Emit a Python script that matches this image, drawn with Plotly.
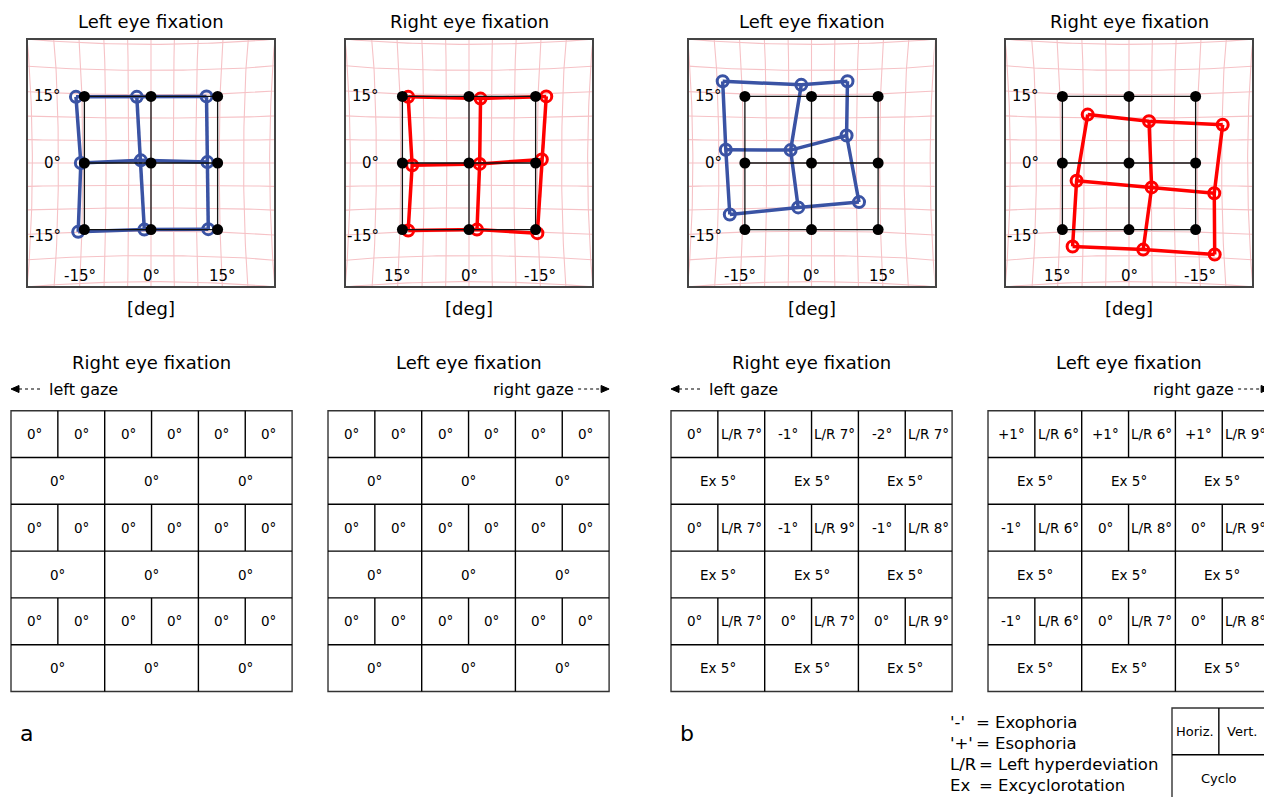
import numpy as np
import plotly.graph_objects as go

W, H = 1264, 797
FONT = "DejaVu Sans"
BLUE = "#3a53a4"
RED = "#ff0000"
PINK = "#f6c2c6"

# ---- Hess plots (degrees) ----
ref_deg = [-15, 0, 15]            # black target points
tick_deg = [-15, 0, 15]

# measured points, rows top -> bottom, columns left -> right on screen
a_left_x = [[-16.9, -3.2, 12.5], [-15.8, -2.3, 12.7], [-16.4, -1.5, 12.9]]
a_left_y = [[14.9, 14.9, 15.0], [0.0, 0.6, 0.2], [-15.5, -15.0, -14.9]]
a_right_x = [[13.7, -2.6, -17.4], [12.8, -2.4, -16.4], [13.7, -1.8, -15.4]]
a_right_y = [[14.9, 14.5, 15.0], [-0.5, -0.2, 0.8], [-15.2, -15.0, -15.8]]
b_left_x = [[-20.0, -2.3, 8.1], [-19.3, -4.7, 7.9], [-18.4, -3.0, 10.7]]
b_left_y = [[18.4, 17.6, 18.4], [3.0, 2.9, 6.2], [-11.6, -10.0, -8.8]]
b_right_x = [[9.3, -4.5, -21.1], [11.8, -5.1, -19.2], [12.7, -3.2, -19.3]]
b_right_y = [[10.9, 9.4, 8.6], [-4.0, -5.5, -6.8], [-18.8, -19.5, -20.6]]

# ---- deviation tables: rows = gaze rows, cols = screen order ----
a_re_horiz = [["0°", "0°", "0°"], ["0°", "0°", "0°"], ["0°", "0°", "0°"]]
a_re_vert = [["0°", "0°", "0°"], ["0°", "0°", "0°"], ["0°", "0°", "0°"]]
a_re_cyclo = [["0°", "0°", "0°"], ["0°", "0°", "0°"], ["0°", "0°", "0°"]]
a_le_horiz = [["0°", "0°", "0°"], ["0°", "0°", "0°"], ["0°", "0°", "0°"]]
a_le_vert = [["0°", "0°", "0°"], ["0°", "0°", "0°"], ["0°", "0°", "0°"]]
a_le_cyclo = [["0°", "0°", "0°"], ["0°", "0°", "0°"], ["0°", "0°", "0°"]]
b_re_horiz = [["0°", "-1°", "-2°"], ["0°", "-1°", "-1°"], ["0°", "0°", "0°"]]
b_re_vert = [["L/R 7°", "L/R 7°", "L/R 7°"], ["L/R 7°", "L/R 9°", "L/R 8°"], ["L/R 7°", "L/R 7°", "L/R 9°"]]
b_re_cyclo = [["Ex 5°", "Ex 5°", "Ex 5°"], ["Ex 5°", "Ex 5°", "Ex 5°"], ["Ex 5°", "Ex 5°", "Ex 5°"]]
b_le_horiz = [["+1°", "+1°", "+1°"], ["-1°", "0°", "0°"], ["-1°", "0°", "0°"]]
b_le_vert = [["L/R 6°", "L/R 6°", "L/R 9°"], ["L/R 6°", "L/R 8°", "L/R 9°"], ["L/R 6°", "L/R 7°", "L/R 8°"]]
b_le_cyclo = [["Ex 5°", "Ex 5°", "Ex 5°"], ["Ex 5°", "Ex 5°", "Ex 5°"], ["Ex 5°", "Ex 5°", "Ex 5°"]]

legend_keys = ["'-'", "'+'", "L/R", "Ex"]
legend_text = ["= Exophoria", "= Esophoria", "= Left hyperdeviation", "= Excyclorotation"]


def px(x):
    return x / W


def py(y):
    return 1 - y / H


def mesh(xs, ys):
    lx, ly = [], []
    for r in range(3):
        lx += list(xs[r]) + [None]
        ly += list(ys[r]) + [None]
    for c in range(3):
        lx += [xs[r][c] for r in range(3)] + [None]
        ly += [ys[r][c] for r in range(3)] + [None]
    return lx, ly


def pink_grid():
    # tangent-screen grid, slight pincushion
    K = 180 / np.pi
    angs = np.arange(-35, 36, 5)
    t = np.linspace(-40, 40, 81)
    gx, gy = [], []
    for a in angs:
        x = K * np.tan(np.radians(a))
        y = K * np.tan(np.radians(t))
        gx += list(x * (1 + 6e-5 * y ** 2)) + [None]
        gy += list(y * (1 + 6e-5 * x ** 2)) + [None]
        gx += list(y * (1 + 6e-5 * x ** 2)) + [None]
        gy += list(x * (1 + 6e-5 * y ** 2)) + [None]
    return gx, gy


fig = go.Figure()
shapes, annos = [], []

panels = [
    (28, "Left eye fixation", a_left_x, a_left_y, BLUE, False),
    (346, "Right eye fixation", a_right_x, a_right_y, RED, True),
    (688.5, "Left eye fixation", b_left_x, b_left_y, BLUE, False),
    (1006, "Right eye fixation", b_right_x, b_right_y, RED, True),
]
BOX = 246
TOP = 40
R = 27.7
gx, gy = pink_grid()
ref_x = [ref_deg[:] for _ in range(3)]
ref_y = [[v] * 3 for v in ref_deg[::-1]]
rlx, rly = mesh(ref_x, ref_y)


def text(x, y, s, size=13, anchor="center"):
    annos.append(dict(x=px(x), y=py(y), xref="paper", yref="paper", text=s, showarrow=False,
                      xanchor=anchor, yanchor="middle",
                      font=dict(size=size, color="black", family=FONT)))


for i, (x0, title, xs, ys, col, flip) in enumerate(panels):
    n = "" if i == 0 else str(i + 1)
    xa, ya = "x" + n, "y" + n
    sign = -1 if flip else 1
    fig.add_trace(go.Scatter(x=gx, y=gy, mode="lines", line=dict(color=PINK, width=1.1),
                             xaxis=xa, yaxis=ya, hoverinfo="skip", showlegend=False))
    lx, ly = mesh(xs, ys)
    fig.add_trace(go.Scatter(x=lx, y=ly, mode="lines", line=dict(color=col, width=3.5),
                             xaxis=xa, yaxis=ya, showlegend=False))
    fig.add_trace(go.Scatter(x=sum(xs, []), y=sum(ys, []), mode="markers",
                             marker=dict(symbol="circle-open", size=11, color=col, line=dict(width=3)),
                             xaxis=xa, yaxis=ya, showlegend=False))
    fig.add_trace(go.Scatter(x=rlx, y=rly, mode="lines", line=dict(color="#111", width=1.3),
                             xaxis=xa, yaxis=ya, showlegend=False))
    fig.add_trace(go.Scatter(x=sum(ref_x, []), y=sum(ref_y, []), mode="markers",
                             marker=dict(size=11, color="black"),
                             xaxis=xa, yaxis=ya, showlegend=False))
    rng = [R, -R] if flip else [-R, R]
    fig.update_layout(**{
        ("xaxis" + n): dict(domain=[px(x0), px(x0 + BOX)], range=rng, anchor=ya,
                            showgrid=False, zeroline=False, showticklabels=False, ticks="",
                            showline=True, mirror=True, linecolor="#444", linewidth=1.5),
        ("yaxis" + n): dict(domain=[py(TOP + BOX), py(TOP)], range=[-R, R], anchor=xa,
                            showgrid=False, zeroline=False, showticklabels=False, ticks="",
                            showline=True, mirror=True, linecolor="#444", linewidth=1.5),
    })
    for t in tick_deg:
        annos.append(dict(x=t * 1.07, y=-25.4, xref=xa, yref=ya, text=f"{t}°", showarrow=False,
                          xanchor="center", yanchor="middle",
                          font=dict(size=15, color="black", family=FONT)))
        yy = t if t >= 0 else t * 1.1
        annos.append(dict(x=-19.8 * sign, y=yy, xref=xa, yref=ya, text=f"{t}°", showarrow=False,
                          xanchor="right", yanchor="middle",
                          font=dict(size=15, color="black", family=FONT)))
    cx = x0 + BOX / 2
    text(cx, 21, title, size=18)
    text(cx, 309, "[deg]", size=18)


def line(x0, y0, x1, y1, color="black", width=1.4, dash=None):
    d = dict(type="line", xref="paper", yref="paper", x0=px(x0), y0=py(y0), x1=px(x1), y1=py(y1),
             line=dict(color=color, width=width))
    if dash:
        d["line"]["dash"] = dash
    shapes.append(d)


CW, RH, TY = 93.7, 46.8, 410.7


def table(x0, y0, horiz, vert, cyclo, ngroups=3, nrows=3, size=13.5):
    w, h = CW * ngroups, RH * 2 * nrows
    shapes.append(dict(type="rect", xref="paper", yref="paper", x0=px(x0), x1=px(x0 + w),
                       y0=py(y0), y1=py(y0 + h), line=dict(color="#333", width=1.4)))
    for k in range(1, 2 * nrows):
        line(x0, y0 + k * RH, x0 + w, y0 + k * RH)
    for g in range(1, ngroups):
        line(x0 + g * CW, y0, x0 + g * CW, y0 + h)
    for r in range(nrows):
        for g in range(ngroups):
            gx0 = x0 + g * CW
            top = y0 + 2 * r * RH
            line(gx0 + CW / 2, top, gx0 + CW / 2, top + RH)
            text(gx0 + CW / 4, top + RH / 2, horiz[r][g], size=size)
            text(gx0 + 3 * CW / 4, top + RH / 2, vert[r][g], size=size)
            text(gx0 + CW / 2, top + 1.5 * RH, cyclo[r][g], size=size)


def gaze_arrow(xa, xb, y, left):
    line(xa, y, xb, y, width=1.2, dash="dot")
    if left:
        path = f"M {px(xa - 8)} {py(y)} L {px(xa)} {py(y - 3.5)} L {px(xa)} {py(y + 3.5)} Z"
    else:
        path = f"M {px(xb + 8)} {py(y)} L {px(xb)} {py(y - 3.5)} L {px(xb)} {py(y + 3.5)} Z"
    shapes.append(dict(type="path", xref="paper", yref="paper", path=path,
                       fillcolor="black", line=dict(color="black", width=1)))


tables = [
    (11, "Right eye fixation", a_re_horiz, a_re_vert, a_re_cyclo, "left"),
    (328, "Left eye fixation", a_le_horiz, a_le_vert, a_le_cyclo, "right"),
    (671, "Right eye fixation", b_re_horiz, b_re_vert, b_re_cyclo, "left"),
    (988, "Left eye fixation", b_le_horiz, b_le_vert, b_le_cyclo, "right"),
]
for x0, title, hz, vt, cy, gaze in tables:
    table(x0, TY, hz, vt, cy)
    text(x0 + 1.5 * CW, 362, title, size=18)
    if gaze == "left":
        gaze_arrow(x0 + 8, x0 + 31, 389, True)
        text(x0 + 36, 389, "left gaze", size=16, anchor="left")
    else:
        tr = x0 + 3 * CW
        gaze_arrow(tr - 31, tr - 8, 389, False)
        text(tr - 33, 389, "right gaze", size=16, anchor="right")

# key
table(1172, 708, [["Horiz."]], [["Vert."]], [["Cyclo"]], ngroups=1, nrows=1, size=13)
eq_x = [974, 974, 977, 977]
for i, (k, s) in enumerate(zip(legend_keys, legend_text)):
    yy = 722 + i * 21
    text(948, yy, k, size=16.5, anchor="left")
    text(eq_x[i], yy, s, size=16.5, anchor="left")

text(18, 733, "a", size=22, anchor="left")
text(678, 733, "b", size=22, anchor="left")

fig.update_layout(width=W, height=H, margin=dict(l=0, r=0, t=0, b=0),
                  paper_bgcolor="white", plot_bgcolor="white",
                  shapes=shapes, annotations=annos, showlegend=False,
                  font=dict(family=FONT))
fig.write_html("out.html", config={"displayModeBar": False},
               post_script="document.body.style.margin='0px';")
